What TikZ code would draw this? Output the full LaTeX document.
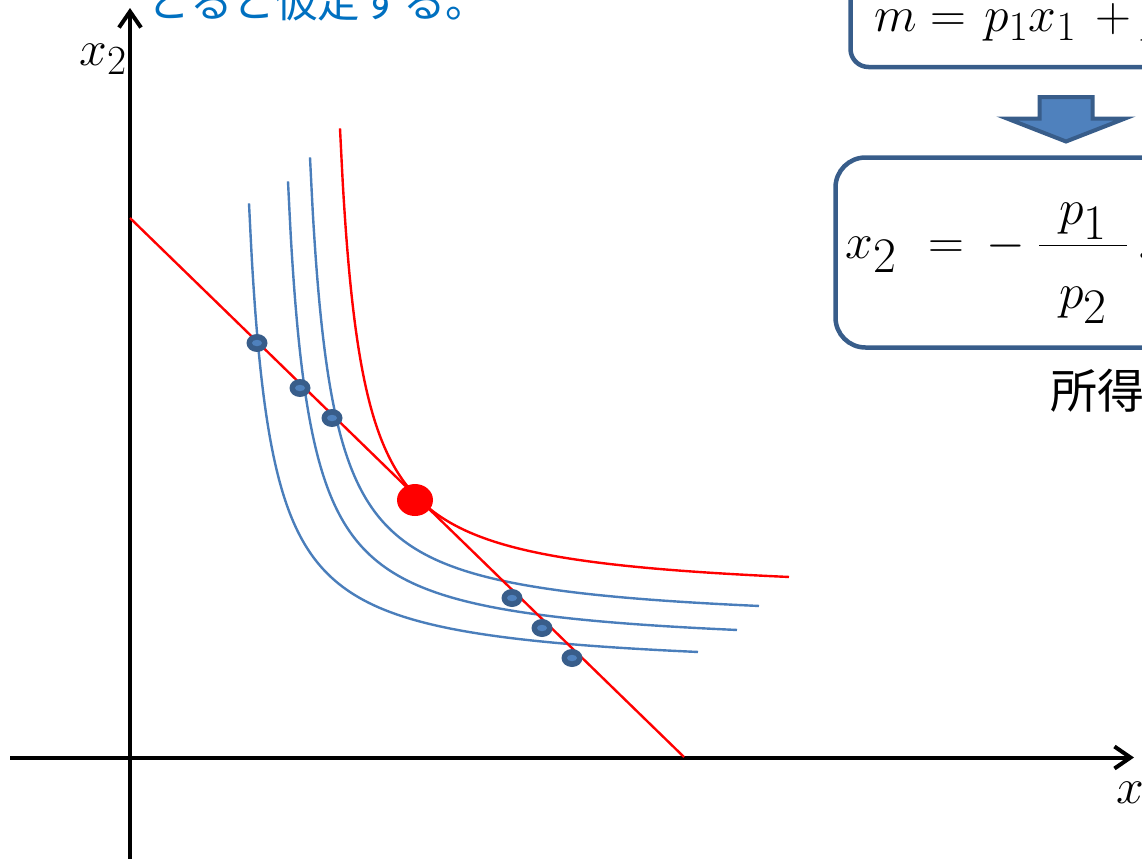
\documentclass[tikz,border=0pt]{standalone}
\usepackage{fontspec}
\newfontfamily\jpfont{Noto Sans CJK JP}
\usetikzlibrary{arrows.meta,shapes.geometric}

\definecolor{boxblue}{RGB}{56,93,138}
\definecolor{fillblue}{RGB}{79,129,189}
\definecolor{curveblue}{RGB}{74,126,187}
\definecolor{textblue}{RGB}{0,112,192}

\tikzset{
  axe/.style={line width=2pt,-{Straight Barb[length=8pt,width=11pt]}},
  icurve/.style={curveblue,line width=1.2pt},
  bdot/.style={ellipse,fill=boxblue,inner sep=0pt,minimum width=10.5pt,minimum height=9pt,
    path picture={\fill[fillblue] (path picture bounding box.center) ellipse (2.5pt and 1.6pt);}},
  eqbox/.style={draw=boxblue,line width=2.25pt,rounded corners=9pt},
}

\begin{document}
\begin{tikzpicture}[x=0.5pt,y=-0.5pt,
  declare function={ic(\x)=598-9886/(\x-318.95);}]
\useasboundingbox (0,0) rectangle (1142,858);
\clip (0,0) rectangle (1142,858);

%%%%%%%%%%% axes
\draw[axe] (130,870) -- (130,8);
\draw[axe] (10,757.5) -- (1134,757.5);
\node[anchor=base west,inner sep=0pt,font=\fontsize{28}{30}\selectfont] (lx2) at (79,65) {$x_2$};
\node[anchor=base west,inner sep=0pt,font=\fontsize{28}{30}\selectfont] (lx1) at (1116,803) {$x_1$};

%%%%%%%%%%% courbes d'indifférence
\draw[icurve,shift={(-91,75)}] plot[domain=340:789,samples=150,smooth] (\x,{ic(\x)});
\draw[icurve,shift={(-52,53)}] plot[domain=340:789,samples=150,smooth] (\x,{ic(\x)});
\draw[icurve,shift={(-30,29)}] plot[domain=340:789,samples=150,smooth] (\x,{ic(\x)});
\draw[red,line width=1.2pt] plot[domain=340:789,samples=150,smooth] (\x,{ic(\x)});

% ---------------    droite de budget
\coordinate (bt) at (130,218);
\coordinate (bb) at (684,757);
\draw[red,line width=1.2pt] (bt) -- (bb);

% ---------------    points
\node[bdot] (d1) at (257,343) {};
\node[bdot] (d2) at (300,388) {};
\node[bdot] (d3) at (332,418) {};
\node[bdot] (d4) at (512,598) {};
\node[bdot] (d5) at (542,628) {};
\node[bdot] (d6) at (572,658) {};
\node[ellipse,fill=red,inner sep=0pt,minimum width=18pt,minimum height=16pt] (opt) at (415,500) {};

%%%%%%%%%%% texte et encadrés
\node[anchor=base west,inner sep=0pt,textblue,font=\jpfont\fontsize{21.3}{24}\selectfont] (hyp) at (147,17) {とると仮定する。};

\draw[eqbox] (850.5,-60) rectangle (1400,67);
\node[anchor=base west,inner sep=0pt,font=\fontsize{32}{34}\selectfont] (eqa) at (874,31)
  {$m=\hspace{2pt}p_1x_1\hspace{4pt}+p_2x_2$};

\draw[boxblue,fill=fillblue,line width=2pt,line join=miter]
  (1039.5,97) -- (1092.5,97) -- (1092.5,118.5) -- (1125,118.5) -- (1066,141.5)
  -- (1007,118.5) -- (1039.5,118.5) -- cycle;

\draw[eqbox,rounded corners=15pt] (835.5,157.5) rectangle (1400,347.5);
\node[anchor=base west,inner sep=0pt,font=\fontsize{38}{40}\selectfont] (eqb) at (845,258)
  {$\displaystyle x_2\hspace{9pt}=\hspace{4pt}-\hspace{6pt}\frac{\makebox[44pt]{$p_1$}}{\raisebox{-8pt}{$p_2$}}\hspace{5pt}x_1+\frac{m}{p_2}$};

\node[anchor=base west,inner sep=0pt,font=\jpfont\fontsize{23.5}{26}\selectfont] (inc) at (1050,408) {所得};
\end{tikzpicture}
\end{document}
